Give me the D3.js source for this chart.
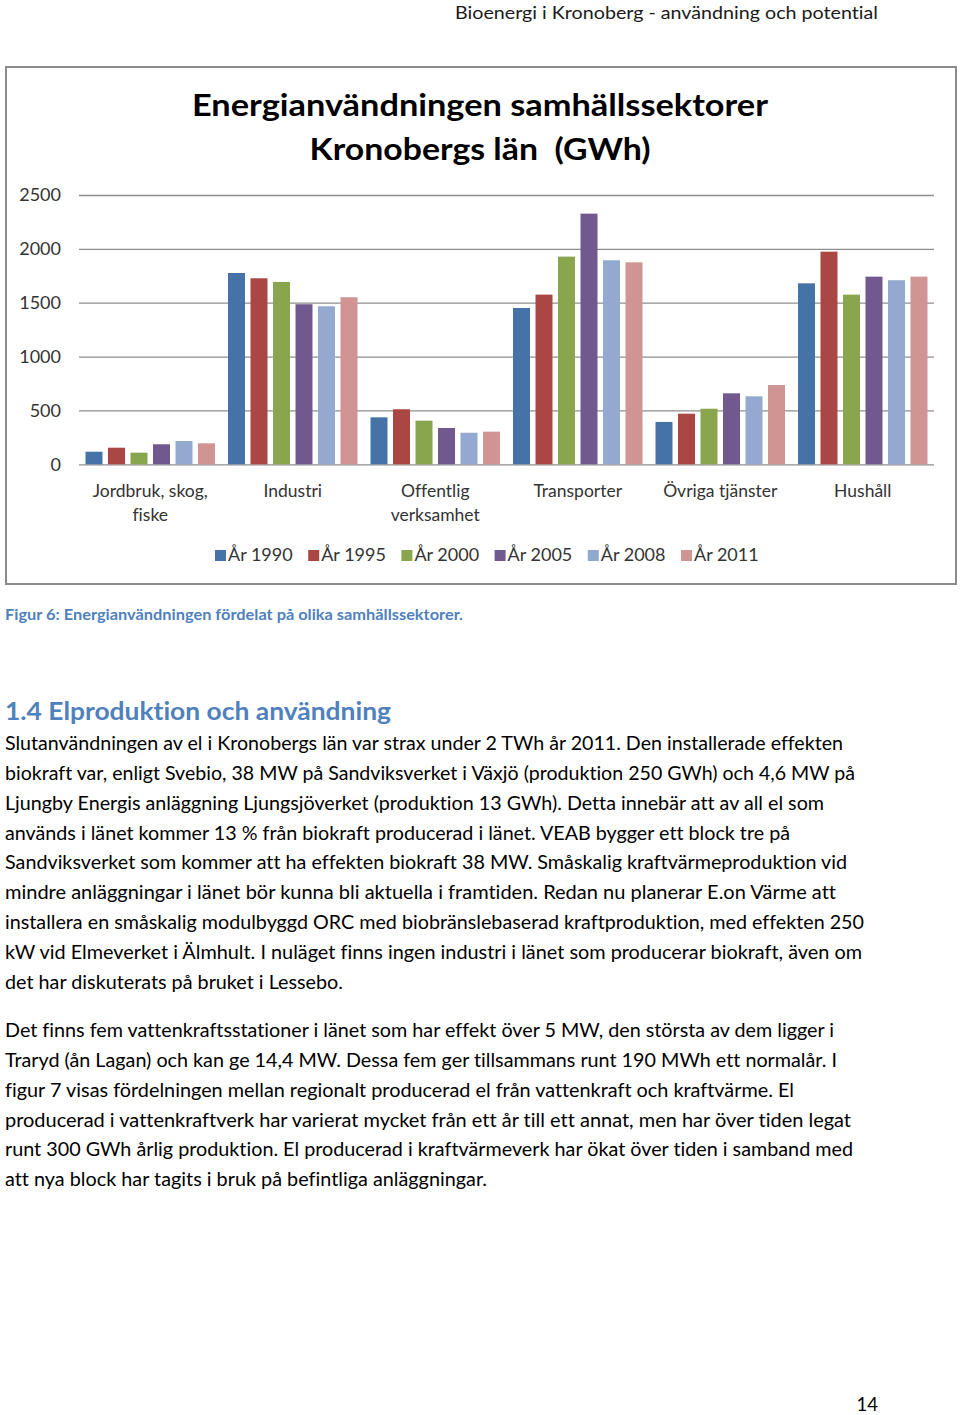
<!DOCTYPE html>
<html>
<head>
<meta charset="utf-8">
<script src="https://cdn.jsdelivr.net/npm/d3@7"></script>
<style>
  html, body { margin: 0; padding: 0; background: #fff; }
  svg { display: block; }
  text { font-variant-ligatures: none; font-feature-settings: "liga" 0, "clig" 0; }
</style>
</head>
<body>
<svg id="page" width="960" height="1415"></svg>
<script>
// ---------- DATA ----------
const categories = ["Jordbruk, skog,\nfiske", "Industri", "Offentlig\nverksamhet", "Transporter", "Övriga tjänster", "Hushåll"];
const seriesNames = ["År 1990", "År 1995", "År 2000", "År 2005", "År 2008", "År 2011"];
const seriesColors = ["#4572A7", "#AA4643", "#89A54E", "#71588F", "#93A9CF", "#D09493"];
const values1990 = [117, 1776, 436, 1451, 393, 1680];
const values1995 = [154, 1727, 511, 1575, 470, 1974];
const values2000 = [108, 1693, 405, 1928, 516, 1575];
const values2005 = [186, 1486, 337, 2327, 659, 1742];
const values2008 = [216, 1467, 293, 1894, 631, 1709];
const values2011 = [195, 1551, 303, 1875, 736, 1742];
const yTicks = [0, 500, 1000, 1500, 2000, 2500];
const titleLines = ["Energianvändningen samhällssektorer", "Kronobergs län  (GWh)"];

const seriesValues = [values1990, values1995, values2000, values2005, values2008, values2011];
const table = categories.map((c, i) => ({ cat: c, vals: seriesNames.map((s, j) => ({ s, v: seriesValues[j][i], color: seriesColors[j] })) }));

// ---------- PAGE ----------
const svg = d3.select("#page");
svg.append("rect").attr("width", 960).attr("height", 1415).attr("fill", "#fff");

const bodyFont = "Lato, 'Open Sans', sans-serif";

svg.append("text").attr("x", 878).attr("y", 19).attr("text-anchor", "end")
  .attr("font-family", bodyFont).attr("font-size", 17).attr("fill", "#1a1a1a")
  .attr("textLength", 423).attr("lengthAdjust", "spacingAndGlyphs")
  .text("Bioenergi i Kronoberg - användning och potential");

// chart frame
svg.append("rect").attr("x", 6).attr("y", 67).attr("width", 950).attr("height", 517)
  .attr("fill", "#fff").attr("stroke", "#8c8c8c").attr("stroke-width", 2);

// title
const titleW = [576, 341];
titleLines.forEach((t, i) => {
  svg.append("text").attr("x", 480).attr("y", 116 + i * 44).attr("text-anchor", "middle")
    .attr("font-family", bodyFont).attr("font-weight", "bold").attr("font-size", 31)
    .attr("fill", "#000").attr("textLength", titleW[i]).attr("lengthAdjust", "spacingAndGlyphs")
    .style("white-space", "pre").attr("xml:space", "preserve")
    .text(t);
});

// scales
const plotLeft = 79, plotRight = 934, plotTop = 195, plotBottom = 464.3;
const x0 = d3.scaleBand().domain(categories).range([plotLeft, plotRight]).padding(0);
const x1 = d3.scaleBand().domain(seriesNames).range([6.5, x0.bandwidth() - 6.5]).paddingInner(0.245).paddingOuter(0);
const y = d3.scaleLinear().domain([0, 2500]).range([plotBottom, plotTop]);

// grid + y axis
const yAxis = svg.append("g").attr("transform", `translate(${plotLeft},0)`)
  .call(d3.axisLeft(y).tickValues(yTicks).tickSize(-(plotRight - plotLeft)).tickPadding(18).tickFormat(d3.format("d")));
yAxis.select(".domain").remove();
yAxis.selectAll(".tick line").attr("stroke", "#8e8e8e").attr("stroke-width", 1.3);
yAxis.selectAll(".tick text").attr("font-family", bodyFont).attr("font-size", 18).attr("fill", "#333");

// bars
const groups = svg.append("g").selectAll("g").data(table).join("g")
  .attr("transform", d => `translate(${x0(d.cat)},0)`);
groups.selectAll("rect").data(d => d.vals).join("rect")
  .attr("x", d => x1(d.s)).attr("width", x1.bandwidth())
  .attr("y", d => y(d.v)).attr("height", d => y(0) - y(d.v))
  .attr("fill", d => d.color);

// category labels
categories.forEach(c => {
  const lines = c.split("\n");
  const t = svg.append("text").attr("text-anchor", "middle")
    .attr("font-family", bodyFont).attr("font-size", 17.5).attr("fill", "#333");
  lines.forEach((l, i) => {
    t.append("tspan").attr("x", x0(c) + x0.bandwidth() / 2).attr("y", 497 + i * 23.5).text(l);
  });
});

// legend
const legendX = d3.scalePoint().domain(seriesNames).range([215, 681]);
const leg = svg.append("g").selectAll("g").data(seriesNames).join("g")
  .attr("transform", d => `translate(${legendX(d)},0)`);
leg.append("rect").attr("x", 0).attr("y", 550).attr("width", 11).attr("height", 11)
  .attr("fill", (d, i) => seriesColors[i]);
leg.append("text").attr("x", 13).attr("y", 561).attr("font-family", bodyFont)
  .attr("font-size", 18).attr("fill", "#333").text(d => d);

// caption
svg.append("text").attr("x", 5).attr("y", 620).attr("font-family", bodyFont)
  .attr("font-weight", "bold").attr("font-size", 14.5).attr("fill", "#4F81BD")
  .attr("textLength", 458).attr("lengthAdjust", "spacingAndGlyphs")
  .text("Figur 6: Energianvändningen fördelat på olika samhällssektorer.");

// heading
svg.append("text").attr("x", 5).attr("y", 720).attr("font-family", bodyFont)
  .attr("font-weight", "bold").attr("font-size", 25).attr("fill", "#4F81BD")
  .attr("textLength", 386).attr("lengthAdjust", "spacingAndGlyphs")
  .text("1.4 Elproduktion och användning");

// body text
const para1 = [
  ["Slutanvändningen av el i Kronobergs län var strax under 2 TWh år 2011. Den installerade effekten", 843],
  ["biokraft var, enligt Svebio, 38 MW på Sandviksverket i Växjö (produktion 250 GWh) och 4,6 MW på", 855],
  ["Ljungby Energis anläggning Ljungsjöverket (produktion 13 GWh). Detta innebär att av all el som", 824],
  ["används i länet kommer 13 % från biokraft producerad i länet. VEAB bygger ett block tre på", 790],
  ["Sandviksverket som kommer att ha effekten biokraft 38 MW. Småskalig kraftvärmeproduktion vid", 847],
  ["mindre anläggningar i länet bör kunna bli aktuella i framtiden. Redan nu planerar E.on Värme att", 836],
  ["installera en småskalig modulbyggd ORC med biobränslebaserad kraftproduktion, med effekten 250", 864],
  ["kW vid Elmeverket i Älmhult. I nuläget finns ingen industri i länet som producerar biokraft, även om", 862],
  ["det har diskuterats på bruket i Lessebo.", 343]
];
const para2 = [
  ["Det finns fem vattenkraftsstationer i länet som har effekt över 5 MW, den största av dem ligger i", 834],
  ["Traryd (ån Lagan) och kan ge 14,4 MW. Dessa fem ger tillsammans runt 190 MWh ett normalår. I", 837],
  ["figur 7 visas fördelningen mellan regionalt producerad el från vattenkraft och kraftvärme. El", 794],
  ["producerad i vattenkraftverk har varierat mycket från ett år till ett annat, men har över tiden legat", 851],
  ["runt 300 GWh årlig produktion. El producerad i kraftvärmeverk har ökat över tiden i samband med", 853],
  ["att nya block har tagits i bruk på befintliga anläggningar.", 487]
];
function drawPara(lines, y0) {
  lines.forEach((l, i) => {
    svg.append("text").attr("x", 5).attr("y", y0 + i * 29.85)
      .attr("font-family", bodyFont).attr("font-size", 18.5).attr("fill", "#000")
      .attr("textLength", l[1] - 5).attr("lengthAdjust", "spacingAndGlyphs")
      .text(l[0]);
  });
}
drawPara(para1, 750);
drawPara(para2, 1037);

// page number
svg.append("text").attr("x", 878).attr("y", 1411).attr("text-anchor", "end")
  .attr("font-family", bodyFont).attr("font-size", 18.5).attr("fill", "#000").text("14");
</script>
</body>
</html>
